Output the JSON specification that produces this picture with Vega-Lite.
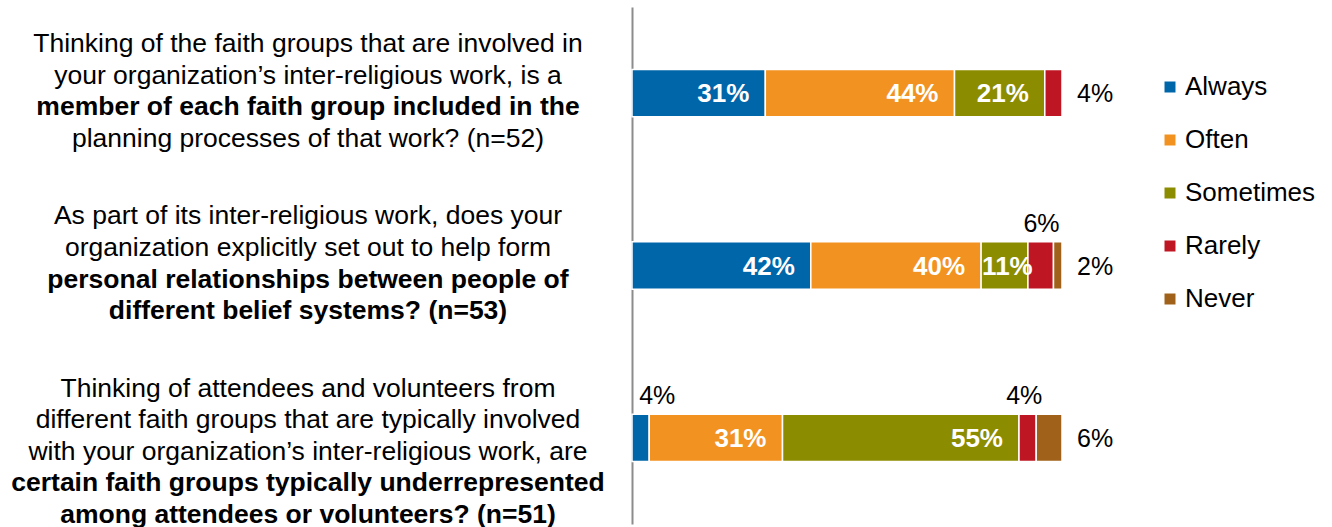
{
  "$schema": "https://vega.github.io/schema/vega-lite/v6.json",
  "padding": {"left": 0, "top": 7, "right": 0, "bottom": 0},
  "background": "white",
  "spacing": 15,
  "config": {"view": {"stroke": null}, "font": "Liberation Sans"},
  "resolve": {"scale": {"y": "independent", "yOffset": "independent", "x": "independent"}},
  "datasets": {
    "text_lines": [
      {"q": "Q1", "line": 1, "text": "Thinking of the faith groups that are involved in"},
      {"q": "Q1", "line": 2, "text": "your organization’s inter-religious work, is a"},
      {"q": "Q1", "line": 4, "text": "planning processes of that work? (n=52)"},
      {"q": "Q2", "line": 1, "text": "As part of its inter-religious work, does your"},
      {"q": "Q2", "line": 2, "text": "organization explicitly set out to help form"},
      {"q": "Q3", "line": 1, "text": "Thinking of attendees and volunteers from"},
      {"q": "Q3", "line": 2, "text": "different faith groups that are typically involved"},
      {"q": "Q3", "line": 3, "text": "with your organization’s inter-religious work, are"}
    ],
    "emphasized_lines": [
      {"q": "Q1", "line": 3, "text": "member of each faith group included in the"},
      {"q": "Q2", "line": 3, "text": "personal relationships between people of"},
      {"q": "Q2", "line": 4, "text": "different belief systems? (n=53)"},
      {"q": "Q3", "line": 4, "text": "certain faith groups typically underrepresented"},
      {"q": "Q3", "line": 5, "text": "among attendees or volunteers? (n=51)"}
    ],
    "bars": [
      {"q": "Q1", "cat": "Always", "k": 1, "share": 0.31},
      {"q": "Q1", "cat": "Often", "k": 2, "share": 0.44},
      {"q": "Q1", "cat": "Sometimes", "k": 3, "share": 0.21},
      {"q": "Q1", "cat": "Rarely", "k": 4, "share": 0.04},
      {"q": "Q2", "cat": "Always", "k": 1, "share": 0.42},
      {"q": "Q2", "cat": "Often", "k": 2, "share": 0.40},
      {"q": "Q2", "cat": "Sometimes", "k": 3, "share": 0.11},
      {"q": "Q2", "cat": "Rarely", "k": 4, "share": 0.06},
      {"q": "Q2", "cat": "Never", "k": 5, "share": 0.02},
      {"q": "Q3", "cat": "Always", "k": 1, "share": 0.04},
      {"q": "Q3", "cat": "Often", "k": 2, "share": 0.31},
      {"q": "Q3", "cat": "Sometimes", "k": 3, "share": 0.55},
      {"q": "Q3", "cat": "Rarely", "k": 4, "share": 0.04},
      {"q": "Q3", "cat": "Never", "k": 5, "share": 0.06}
    ]
  },
  "hconcat": [
    {
      "width": 616,
      "height": 517,
      "encoding": {
        "x": {"datum": 0.5, "type": "quantitative", "scale": {"domain": [0, 1]}, "axis": null},
        "y": {"field": "q", "type": "nominal", "scale": {"domain": ["Q1", "Q2", "Q3"], "paddingInner": 0, "paddingOuter": 0}, "axis": null},
        "yOffset": {"field": "line", "type": "ordinal", "scale": {"type": "point", "domain": [1, 2, 3, 4, 5], "padding": 0.735}},
        "text": {"field": "text"}
      },
      "layer": [
        {"data": {"name": "text_lines"},
         "mark": {"type": "text", "align": "center", "baseline": "middle", "dy": 14, "fontSize": 26.5, "font": "Liberation Sans", "color": "black"}},
        {"data": {"name": "emphasized_lines"},
         "mark": {"type": "text", "align": "center", "baseline": "middle", "dy": 14, "fontSize": 26.5, "font": "Liberation Sans", "fontWeight": "bold", "color": "black"}}
      ]
    },
    {
      "width": 430,
      "height": 517,
      "data": {"name": "bars"},
      "transform": [
        {"stack": "share", "groupby": ["q"], "sort": [{"field": "k", "order": "ascending"}], "offset": "normalize", "as": ["x0", "x1"]}
      ],
      "encoding": {
        "y": {"field": "q", "type": "nominal", "scale": {"paddingInner": 0.725, "paddingOuter": 0.3625},
              "axis": {"title": null, "labels": false, "ticks": false, "grid": false, "domainColor": "#8c8c8c", "domainWidth": 2}}
      },
      "layer": [
        {"mark": {"type": "bar", "stroke": "white", "strokeWidth": 1.5},
         "encoding": {
           "x": {"field": "x0", "type": "quantitative", "scale": {"domain": [0, 1]}, "axis": null},
           "x2": {"field": "x1"},
           "color": {"field": "cat", "type": "nominal",
                     "scale": {"domain": ["Always", "Often", "Sometimes", "Rarely", "Never"],
                               "range": ["#0066aa", "#f29221", "#8c8c00", "#be1622", "#a0621a"]},
                     "legend": {"title": null, "orient": "none", "legendX": 1157, "legendY": 67, "symbolType": "square", "symbolSize": 121, "symbolStrokeWidth": 0, "labelFontSize": 26, "labelFont": "Liberation Sans", "labelColor": "black", "rowPadding": 27, "labelOffset": 2, "padding": 0}}
         }},
        {"transform": [{"filter": "datum.share >= 0.15"}],
         "mark": {"type": "text", "align": "right", "baseline": "middle", "dx": -16, "dy": 1, "fontSize": 26, "fontWeight": "bold", "color": "white", "font": "Liberation Sans"},
         "encoding": {"x": {"field": "x1", "type": "quantitative"}, "text": {"field": "share", "format": ".0%"}}},
        {"transform": [{"filter": "datum.share >= 0.1 && datum.share < 0.15"}],
         "mark": {"type": "text", "align": "left", "baseline": "middle", "dx": 1, "dy": 1, "fontSize": 26, "fontWeight": "bold", "color": "white", "font": "Liberation Sans"},
         "encoding": {"x": {"field": "x0", "type": "quantitative"}, "text": {"field": "share", "format": ".0%"}}},
        {"transform": [{"filter": "datum.share < 0.1 && datum.x1 > 0.999"}],
         "mark": {"type": "text", "align": "left", "baseline": "middle", "dx": 15, "dy": 1, "fontSize": 25, "color": "black", "font": "Liberation Sans"},
         "encoding": {"x": {"field": "x1", "type": "quantitative"}, "text": {"field": "share", "format": ".0%"}}},
        {"transform": [{"filter": "datum.share < 0.1 && datum.x1 <= 0.999 && datum.cat == 'Always'"}],
         "mark": {"type": "text", "align": "left", "baseline": "middle", "dx": -10, "dy": -42, "fontSize": 25, "color": "black", "font": "Liberation Sans"},
         "encoding": {"x": {"field": "x1", "type": "quantitative"}, "text": {"field": "share", "format": ".0%"}}},
        {"transform": [{"filter": "datum.share < 0.1 && datum.x1 <= 0.999 && datum.cat != 'Always'"}],
         "mark": {"type": "text", "align": "center", "baseline": "middle", "dx": -12, "dy": -42, "fontSize": 25, "color": "black", "font": "Liberation Sans"},
         "encoding": {"x": {"field": "x1", "type": "quantitative"}, "text": {"field": "share", "format": ".0%"}}}
      ]
    }
  ]
}
